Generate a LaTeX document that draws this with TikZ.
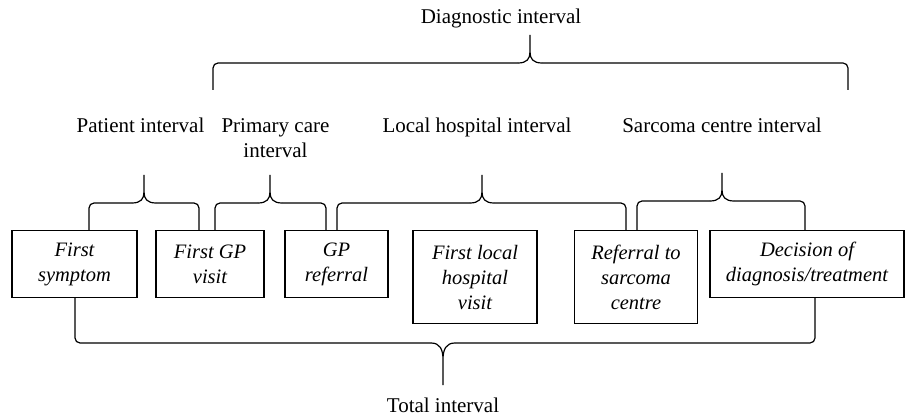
\documentclass[tikz,border=0pt]{standalone}
\usepackage{fontspec}
\setmainfont{Liberation Serif}
\usetikzlibrary{calc}

\newcommand{\ivbrace}[4]{%
 \draw[ivline,rounded corners=5pt] let \p1=(#1), \p3=(#3) in (\p1) |- (\x3-12pt,{\y3-(#4)});
 \draw[ivline,rounded corners=5pt] let \p2=(#2), \p3=(#3) in (\p2) |- (\x3+12pt,{\y3-(#4)});
 \draw[ivline] let \p3=(#3) in
 (\x3-12pt,{\y3-(#4)}) .. controls (\x3-3pt,{\y3-(#4)}) and (\x3,{\y3-0.85*(#4)}) .. (\x3,{\y3-0.6*(#4)}) -- (\p3)
 (\x3+12pt,{\y3-(#4)}) .. controls (\x3+3pt,{\y3-(#4)}) and (\x3,{\y3-0.85*(#4)}) .. (\x3,{\y3-0.6*(#4)}) -- (\p3);
}

\begin{document}
\begin{tikzpicture}[x=1pt,y=-1pt]
 \tikzstyle{every node}=[font=\fontsize{21}{25}\selectfont]
 \tikzstyle{box}=[draw,line width=1.2pt,anchor=north,inner sep=0pt,align=center,
  minimum height=67pt,font=\fontsize{20.5}{25}\selectfont\itshape]
 \tikzstyle{ivline}=[line width=1.2pt]
 \tikzstyle{ivlabel}=[anchor=base,align=center,inner sep=0pt]
 \useasboundingbox (0,0) rectangle (906,417);
 \path
 (74.5,230) node[box,minimum width=125pt] (symptom) {First\\symptom}
 (210,230)  node[box,minimum width=108pt] (gpvisit) {First GP\\visit}
 (336.5,230) node[box,minimum width=103pt] (referral) {GP\\referral}
 (475,230)  node[box,minimum width=124pt,minimum height=93pt] (localvisit) {First local\\hospital\\visit}
 (636,230)  node[box,minimum width=123pt,minimum height=93pt] (sarcoma) {Referral to\\sarcoma\\centre}
 (807,230)  node[box,minimum width=194pt] (decision) {Decision of\\diagnosis/treatment}
 ;
 \node[ivlabel] (patient)  at (140.5,133) {Patient interval};
 \node[ivlabel] (primary)  at (275.5,158) {Primary care\\interval};
 \node[ivlabel] (hospital) at (477,133) {Local hospital interval};
 \node[ivlabel] (centre)   at (722,133) {Sarcoma centre interval};
 \node[ivlabel] (diag)     at (501,24) {Diagnostic interval};
 \node[ivlabel] (total)    at (443,412) {Total interval};
 \coordinate (ptip) at (144,175);
 \coordinate (ctip) at (270,175);
 \coordinate (htip) at (482,175);
 \coordinate (stip) at (722,173);
 \coordinate (dtip) at (530,35);
 \coordinate (ttip) at (443,385);
 \coordinate (dleft) at (213,90);
 \coordinate (dright) at (848,90);
 \ivbrace{[xshift=14.5pt]symptom.north}{[xshift=-11pt]gpvisit.north}{ptip}{28pt}
 \ivbrace{[xshift=5pt]gpvisit.north}{[xshift=-10.5pt]referral.north}{ctip}{28pt}
 \ivbrace{[xshift=0.5pt]referral.north}{[xshift=-10pt]sarcoma.north}{htip}{28pt}
 \ivbrace{[xshift=1pt]sarcoma.north}{[xshift=-2pt]decision.north}{stip}{28pt}
 \ivbrace{dleft}{dright}{dtip}{28pt}
 \ivbrace{[xshift=0.5pt]symptom.south}{[xshift=8pt]decision.south}{ttip}{-42pt}
\end{tikzpicture}
\end{document}
